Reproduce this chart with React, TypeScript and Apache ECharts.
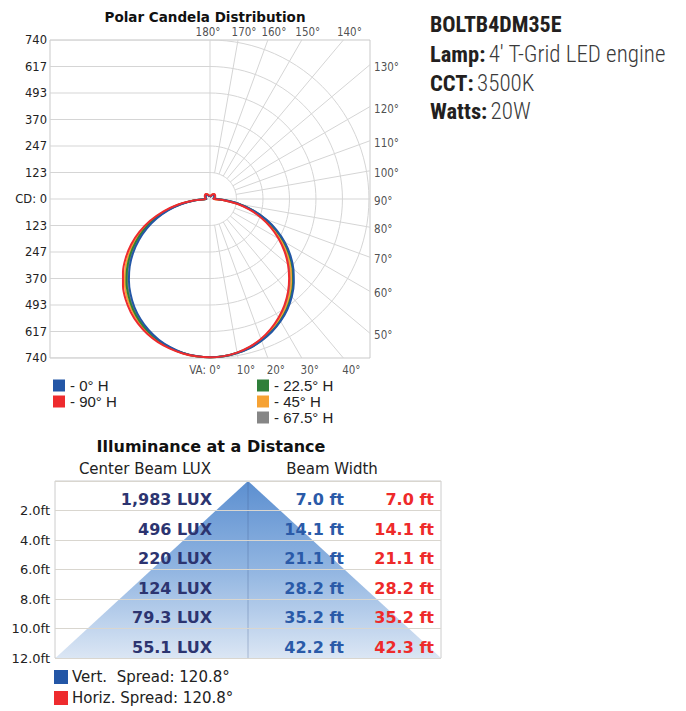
import React, { useEffect, useRef } from 'react';
import * as echarts from 'echarts';

// ---------- Polar candela data ----------
const seriesNames = ['67.5° H', '45° H', '22.5° H', '0° H', '90° H'];
const seriesColors = ['#868686', '#f6a234', '#2f7f3a', '#2356a6', '#ee2b2e'];
const mainAngles = [0, 5, 10, 15, 20, 25, 30, 35, 40, 45, 50, 55, 60, 65, 70, 75, 80, 85, 90];
const upAngles = [100, 110, 120, 130, 140, 150, 160, 170, 180];

// candela on the right side of the plot (VA 0..90)
const right67 = [737, 734, 726, 713, 695, 672, 643, 610, 572, 529, 482, 431, 377, 319, 259, 196, 132, 66, 17];
const right45 = [737, 735, 727, 715, 697, 675, 648, 616, 579, 537, 490, 440, 385, 327, 266, 201, 135, 68, 18];
const right22 = [737, 735, 728, 717, 701, 680, 654, 624, 588, 547, 502, 451, 396, 337, 274, 209, 140, 71, 18];
const right0 = [737, 735, 728, 718, 702, 682, 657, 628, 593, 552, 507, 457, 402, 342, 279, 212, 143, 72, 17];
const right90 = [737, 734, 726, 712, 693, 668, 638, 604, 565, 521, 474, 423, 369, 312, 252, 191, 128, 64, 16];
// candela on the left side of the plot (VA 0..90)
const left67 = [737, 735, 728, 716, 700, 679, 653, 622, 586, 545, 499, 448, 393, 335, 272, 207, 139, 70, 18];
const left45 = [737, 735, 729, 719, 705, 686, 662, 633, 600, 560, 515, 465, 410, 350, 286, 217, 147, 74, 19];
const left22 = [737, 735, 728, 717, 701, 681, 656, 626, 590, 550, 504, 454, 399, 340, 277, 210, 142, 71, 18];
const left0 = [737, 734, 727, 714, 697, 674, 646, 614, 576, 534, 488, 437, 382, 324, 263, 200, 134, 67, 17];
const left90 = [737, 735, 730, 721, 709, 692, 670, 643, 611, 573, 529, 479, 424, 363, 297, 226, 153, 77, 20];
// up-light (VA 100..180)
const up67 = [18, 22, 25, 27, 27, 23, 17, 13, 11];
const up45 = [19, 23, 26, 28, 28, 24, 18, 13, 11];
const up22 = [17, 21, 24, 26, 26, 22, 16, 12, 10];
const up0 = [16, 20, 23, 25, 25, 21, 15, 11, 9];
const up90 = [20, 25, 28, 30, 30, 26, 19, 14, 12];

const rightSets = [right67, right45, right22, right0, right90];
const leftSets = [left67, left45, left22, left0, left90];
const upSets = [up67, up45, up22, up0, up90];

const CD_MAX = 740;
const CD_STEPS = 6;
const rayAngles = [0, 10, 20, 30, 40, 50, 60, 70, 80, 90, 100, 110, 120, 130, 140, 150, 160, 170, 180];

// ---------- Illuminance data ----------
const distances = [2, 4, 6, 8, 10, 12];
const centerLux = [1983, 496, 220, 124, 79.3, 55.1];
const vertWidth = [7.0, 14.1, 21.1, 28.2, 35.2, 42.2];
const horizWidth = [7.0, 14.1, 21.1, 28.2, 35.2, 42.3];
const vertSpread = 120.8;
const horizSpread = 120.8;

// ---------- Fixture info ----------
const fixtureName = 'BOLTB4DM35E';
const lamp = "4' T-Grid LED engine";
const cct = '3500K';
const watts = '20W';

const POLAR_H = 318;
const X_HALF = 745;
const PX = (2 * CD_MAX) / POLAR_H; // candela per pixel
const COND = "'Roboto Condensed', 'DejaVu Sans Condensed', 'Liberation Sans Narrow', Roboto, sans-serif";
const TAHOMA = "'DejaVu Sans', Verdana, sans-serif";
const TAHOMA_N = "'DejaVu Sans Condensed', 'Liberation Sans', sans-serif";

const rad = (d: number) => (d * Math.PI) / 180;
const polarPt = (r: number, deg: number, side: number) => [side * r * Math.sin(rad(deg)), -r * Math.cos(rad(deg))];

function edgePoint(deg: number) {
  const s = Math.sin(rad(deg));
  const c = Math.cos(rad(deg));
  let t = Infinity;
  if (s > 1e-9) t = Math.min(t, X_HALF / s);
  if (Math.abs(c) > 1e-9) t = Math.min(t, CD_MAX / Math.abs(c));
  return [s * t, -c * t];
}

function curve(main: number[], left: number[], up: number[]) {
  const angles = mainAngles.concat(upAngles);
  const rv = main.concat(up);
  const lv = left.concat(up);
  const pts: number[][] = [];
  for (let i = angles.length - 1; i >= 0; i--) pts.push(polarPt(rv[i], angles[i], 1));
  for (let i = 1; i < angles.length; i++) pts.push(polarPt(lv[i], angles[i], -1));
  return pts;
}

function buildOption() {
  const step = CD_MAX / CD_STEPS;
  const gridCoords: number[][][] = [];
  for (let k = -CD_STEPS; k <= CD_STEPS; k++) {
    const y = k * step;
    gridCoords.push([[-X_HALF, y], [k === 0 ? X_HALF : 0, y]]);
  }
  gridCoords.push([[0, -CD_MAX], [0, CD_MAX]]);
  for (let k = 1; k <= CD_STEPS; k++) {
    const r = k * step;
    const arc: number[][] = [];
    for (let a = 0; a <= 180; a += 3) arc.push(polarPt(r, a, 1));
    gridCoords.push(arc);
  }
  rayAngles.forEach((a) => {
    if (a % 90 !== 0) gridCoords.push([polarPt(step, a, 1), edgePoint(a)]);
  });

  // label anchor = ray end on the frame, nudged by a few pixels
  const angleLabels = rayAngles.map((a) => {
    const p = edgePoint(a);
    let label: any;
    let dx = 0;
    let dy = 0;
    if (a === 0) {
      label = { position: 'bottom', distance: 6, align: 'right' };
      dx = 11;
    } else if (a <= 40) {
      label = { position: 'bottom', distance: 6, align: 'center' };
      dx = 8;
    } else if (a <= 130) {
      label = { position: 'right', distance: 4 };
      dy = -2;
    } else {
      label = { position: 'top', distance: 2, align: 'center' };
      dx = a === 180 ? -2 : 6;
    }
    return { value: [p[0] + dx * PX, p[1] + dy * PX], name: a === 0 ? 'VA: 0°' : a + '°', label };
  });

  const curveSeries = seriesNames.map((name, i) => ({
    type: 'line',
    name,
    xAxisIndex: 0,
    yAxisIndex: 0,
    data: curve(rightSets[i], leftSets[i], upSets[i]),
    showSymbol: false,
    symbol: 'none',
    smooth: 0.3,
    clip: false,
    lineStyle: { width: 2, color: seriesColors[i] },
    itemStyle: { color: seriesColors[i] },
    z: 3 + i,
  }));

  const last = distances.length - 1;
  const fmtLux = (v: number) => (v >= 1000 ? v.toLocaleString('en-US') : String(v)) + ' LUX';
  const richFor = (label: string, value: string) => ({
    text: '{b|' + label + '} {r|' + value + '}',
    textVerticalAlign: 'middle',
    rich: {
      b: { fontFamily: COND, fontSize: 22.5, fontWeight: 'bold', fill: '#231f20', color: '#231f20' },
      r: { fontFamily: COND, fontSize: 23, fontWeight: 300, fill: '#3a3a3a', color: '#3a3a3a' },
    },
  });

  return {
    animation: false,
    backgroundColor: '#ffffff',
    grid: [
      { left: 50, top: 40, width: 320, height: POLAR_H, show: true, borderColor: '#c9c9c9', borderWidth: 1, backgroundColor: 'transparent' },
      { left: 55, top: 481, width: 386, height: 177, show: true, borderColor: '#cccccc', borderWidth: 1, backgroundColor: 'transparent' },
    ],
    xAxis: [
      { type: 'value', gridIndex: 0, min: -X_HALF, max: X_HALF, show: false },
      { type: 'value', gridIndex: 1, min: -21.15, max: 21.15, show: false },
    ],
    yAxis: [
      {
        type: 'value', gridIndex: 0, min: -CD_MAX, max: CD_MAX, interval: CD_MAX / CD_STEPS,
        axisLine: { show: false }, axisTick: { show: false }, splitLine: { show: false },
        axisLabel: {
          margin: 3, fontFamily: TAHOMA, fontSize: 11.5, color: '#222',
          formatter: (v: number) => (Math.abs(v) < 1e-6 ? 'CD: 0' : String(Math.round(Math.abs(v)))),
        },
      },
      {
        type: 'value', gridIndex: 1, min: 0, max: 12, interval: 2, inverse: true, z: 3,
        axisLine: { show: false }, axisTick: { show: false },
        splitLine: { show: true, lineStyle: { color: '#d9d6cf', width: 1.2 } },
        axisLabel: {
          margin: 5, fontFamily: TAHOMA, fontSize: 13, color: '#222', padding: [5, 0, 0, 0],
          formatter: (v: number) => (v === 0 ? '' : v.toFixed(1) + 'ft'),
        },
      },
    ],
    legend: [
      {
        data: ['0° H', '90° H'], left: 48, top: 373, orient: 'vertical', icon: 'rect',
        itemWidth: 12, itemHeight: 12, itemGap: 1, selectedMode: false, formatter: '- {name}',
        textStyle: { fontFamily: 'Liberation Sans', fontSize: 15, color: '#222' },
      },
      {
        data: ['22.5° H', '45° H', '67.5° H'], left: 252, top: 373, orient: 'vertical', icon: 'rect',
        itemWidth: 12, itemHeight: 12, itemGap: 1, selectedMode: false, formatter: '- {name}',
        textStyle: { fontFamily: 'Liberation Sans', fontSize: 15, color: '#222' },
      },
    ],
    series: [
      {
        type: 'lines', coordinateSystem: 'cartesian2d', xAxisIndex: 0, yAxisIndex: 0, polyline: true, silent: true,
        lineStyle: { color: '#d5d5d5', width: 1, opacity: 1 }, z: 1,
        data: gridCoords.map((c) => ({ coords: c })),
      },
      ...curveSeries,
      {
        type: 'scatter', xAxisIndex: 0, yAxisIndex: 0, symbolSize: 0.1, clip: false, silent: true,
        itemStyle: { color: 'rgba(0,0,0,0)' }, z: 10,
        labelLayout: { hideOverlap: false },
        label: { show: true, formatter: '{b}', fontFamily: TAHOMA_N, fontSize: 11.5, color: '#222' },
        data: angleLabels,
      },
      {
        type: 'custom', xAxisIndex: 1, yAxisIndex: 1, z: 1, silent: true,
        data: [[0, distances[last]]],
        renderItem: (params: any, api: any) => {
          const pL = api.coord([-vertWidth[last] / 2, distances[last]]);
          const pA = api.coord([0, 0]);
          const pR = api.coord([horizWidth[last] / 2, distances[last]]);
          return {
            type: 'group',
            children: [
              {
                type: 'polygon',
                shape: { points: [pL, pA, pR] },
                style: {
                  fill: {
                    type: 'linear', x: 0, y: 0, x2: 0, y2: 1, global: false,
                    colorStops: [
                      { offset: 0, color: '#5c8fd0' },
                      { offset: 0.5, color: '#91b5e1' },
                      { offset: 1, color: '#dbe6f4' },
                    ],
                  },
                },
              },
              {
                type: 'line',
                shape: { x1: pA[0], y1: pA[1], x2: pA[0], y2: pR[1] },
                style: { stroke: 'rgba(60,90,140,0.28)', lineWidth: 1.2 },
              },
            ],
          };
        },
      },
      {
        type: 'custom', xAxisIndex: 1, yAxisIndex: 1, z: 6, silent: true,
        data: distances.map((d) => [0, d]),
        renderItem: (params: any, api: any) => {
          const i = params.dataIndex;
          const c = api.coord([0, distances[i] - 1]);
          const y = c[1] + 4;
          const font = { fontFamily: TAHOMA, fontSize: 16, fontWeight: 'bold' };
          return {
            type: 'group',
            children: [
              { type: 'text', x: c[0] - 36, y, style: { ...font, text: fmtLux(centerLux[i]), fill: '#2c3470', textAlign: 'right', textVerticalAlign: 'middle' } },
              { type: 'text', x: c[0] + 96, y, style: { ...font, text: vertWidth[i].toFixed(1) + ' ft', fill: '#2a5aa8', textAlign: 'right', textVerticalAlign: 'middle' } },
              { type: 'text', x: c[0] + 186, y, style: { ...font, text: horizWidth[i].toFixed(1) + ' ft', fill: '#ee2a2a', textAlign: 'right', textVerticalAlign: 'middle' } },
            ],
          };
        },
      },
    ],
    graphic: [
      { type: 'text', x: 205, y: 17, style: { text: 'Polar Candela Distribution', fontFamily: TAHOMA, fontSize: 13.5, fontWeight: 'bold', fill: '#111', textAlign: 'center', textVerticalAlign: 'middle' } },
      { type: 'text', x: 211, y: 446, style: { text: 'Illuminance at a Distance', fontFamily: TAHOMA, fontSize: 16, fontWeight: 'bold', fill: '#111', textAlign: 'center', textVerticalAlign: 'middle' } },
      { type: 'text', x: 145, y: 469, style: { text: 'Center Beam LUX', fontFamily: TAHOMA, fontSize: 15, fill: '#222', textAlign: 'center', textVerticalAlign: 'middle' } },
      { type: 'text', x: 332, y: 469, style: { text: 'Beam Width', fontFamily: TAHOMA, fontSize: 15, fill: '#222', textAlign: 'center', textVerticalAlign: 'middle' } },
      { type: 'rect', shape: { x: 54, y: 670, width: 14, height: 14 }, style: { fill: '#2356a6' } },
      { type: 'text', x: 72, y: 677, style: { text: 'Vert.\u00a0 Spread: ' + vertSpread.toFixed(1) + '°', fontFamily: TAHOMA, fontSize: 15, fill: '#222', textVerticalAlign: 'middle' } },
      { type: 'rect', shape: { x: 54, y: 691, width: 14, height: 14 }, style: { fill: '#ee2b2e' } },
      { type: 'text', x: 72, y: 698, style: { text: 'Horiz. Spread: ' + horizSpread.toFixed(1) + '°', fontFamily: TAHOMA, fontSize: 15, fill: '#222', textVerticalAlign: 'middle' } },
      { type: 'text', x: 430, y: 24, style: { text: fixtureName, fontFamily: COND, fontSize: 22, fontWeight: 'bold', fill: '#231f20', textVerticalAlign: 'middle' } },
      { type: 'text', x: 430, y: 54, style: richFor('Lamp:', lamp) },
      { type: 'text', x: 430, y: 83, style: richFor('CCT:', cct) },
      { type: 'text', x: 430, y: 111, style: richFor('Watts:', watts) },
    ],
  };
}

export default function App() {
  const ref = useRef<HTMLDivElement>(null);
  useEffect(() => {
    if (!ref.current) return;
    const chart = echarts.init(ref.current, undefined, { renderer: 'svg' });
    chart.setOption(buildOption() as any);
    return () => chart.dispose();
  }, []);
  return (
    <div
      ref={ref}
      style={{ position: 'absolute', left: 0, top: 0, width: 686, height: 711, background: '#ffffff' }}
    />
  );
}
